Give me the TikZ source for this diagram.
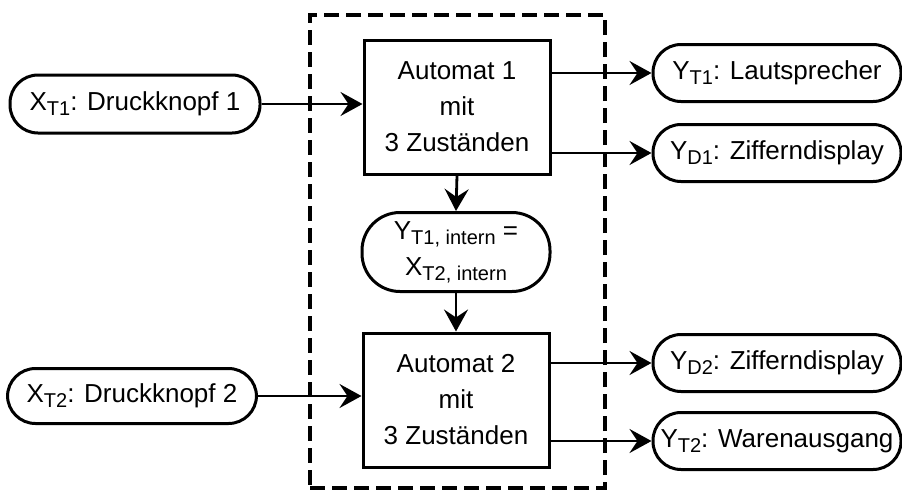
\documentclass[tikz,border=0pt]{standalone}
\usepackage{fontspec}
\setmainfont{Liberation Sans}
\usetikzlibrary{arrows.meta}
\newcommand\sbs[1]{\raisebox{-5pt}{\fontsize{20}{20}\selectfont #1}}
\begin{document}
\begin{tikzpicture}[x=1pt,y=-1pt,
  every node/.style={font=\fontsize{26}{36}\selectfont},
  pill/.style={draw, line width=3pt, rectangle, rounded corners=28pt, minimum width=248pt, minimum height=57pt, inner sep=0pt},
  autobox/.style={draw, line width=3pt, rectangle, minimum width=186pt, minimum height=134pt, align=center},
  arr/.style={line width=2.8pt, -{Stealth[length=22pt,width=24pt,inset=8pt]}},
  frame/.style={draw, line width=3.5pt, dash pattern=on 15pt off 7pt, minimum width=295pt, minimum height=473pt}]
\useasboundingbox (0,0) rectangle (902,491);
\node[frame] (fr) at (457.5,251.5) {};
\node[pill, minimum width=250pt, minimum height=58pt] (i1) at (135,104) {X\sbs{T1}: Druckknopf 1};
\node[pill, minimum width=249pt, minimum height=55pt] (i2) at (132,396) {X\sbs{T2}: Druckknopf 2};
\node[autobox] (a1) at (457,107) {Automat 1\\mit\\3 Zuständen};
\node[autobox] (a2) at (456,400) {Automat 2\\mit\\3 Zuständen};
\node[pill, minimum width=188pt, minimum height=79pt, rounded corners=38pt, align=center] (m) at (456,252) {Y\sbs{T1, intern} =\\X\sbs{T2, intern}};
\node[pill] (o1) at (777,73) {Y\sbs{T1}: Lautsprecher};
\node[pill] (o2) at (777,153) {Y\sbs{D1}: Zifferndisplay};
\node[pill] (o3) at (777,363) {Y\sbs{D2}: Zifferndisplay};
\node[pill] (o4) at (777,441) {Y\sbs{T2}: Warenausgang};
\draw[arr] (i1.east) -- (i1.east -| a1.west);
\draw[arr] (i2.east) -- (i2.east -| a2.west);
\draw[arr] (a1.east |- o1.west) -- (o1.west);
\draw[arr] (a1.east |- o2.west) -- (o2.west);
\draw[arr] (a2.east |- o3.west) -- (o3.west);
\draw[arr] (a2.east |- o4.west) -- (o4.west);
\draw[arr] (a1.south) -- (m.north);
\draw[arr] (m.south) -- (a2.north);
\end{tikzpicture}
\end{document}
